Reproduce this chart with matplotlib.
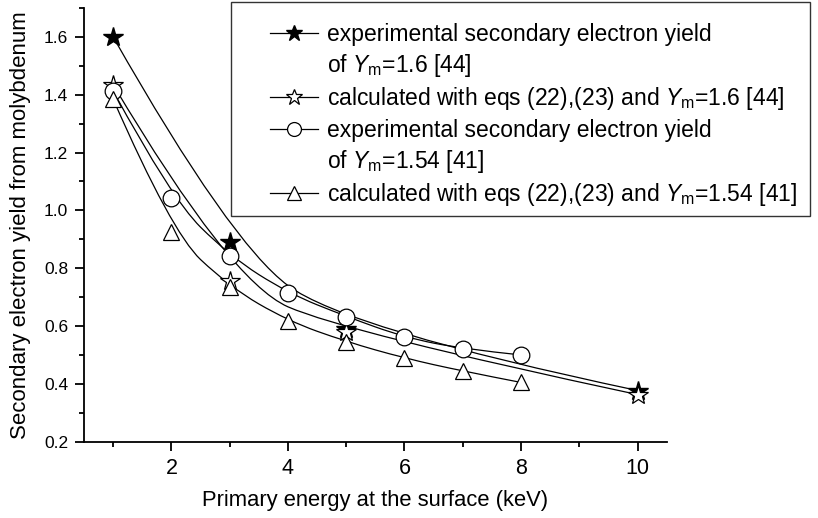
import numpy as np
import matplotlib
matplotlib.use('Agg')
import matplotlib.pyplot as plt
from matplotlib.path import Path
from matplotlib.patches import PathPatch, Rectangle
from matplotlib.lines import Line2D

plt.rcParams['font.family'] = ['Liberation Sans', 'DejaVu Sans']
plt.rcParams['mathtext.fontset'] = 'custom'
plt.rcParams['mathtext.rm'] = 'Liberation Sans'
plt.rcParams['mathtext.it'] = 'Liberation Sans:italic'

# data
x_exp44 = [1, 3, 5, 10]
y_exp44 = [1.60, 0.89, 0.59, 0.377]

x_calc44 = [1, 3, 5, 10]
y_calc44 = [1.435, 0.755, 0.578, 0.363]

x_exp41 = [1, 2, 3, 4, 5, 6, 7, 8]
y_exp41 = [1.413, 1.042, 0.842, 0.714, 0.633, 0.561, 0.521, 0.500]

x_calc41 = [1, 2, 3, 4, 5, 6, 7, 8]
y_calc41 = [1.385, 0.925, 0.735, 0.618, 0.546, 0.489, 0.444, 0.405]

labels = ['experimental secondary electron yield',
          'of $\\mathit{Y}_{\\mathrm{m}}$=1.6 [44]',
          'calculated with eqs (22),(23) and $\\mathit{Y}_{\\mathrm{m}}$=1.6 [44]',
          'experimental secondary electron yield',
          'of $\\mathit{Y}_{\\mathrm{m}}$=1.54 [41]',
          'calculated with eqs (22),(23) and $\\mathit{Y}_{\\mathrm{m}}$=1.54 [41]']


def bspline(xs, ys):
    # quadratic b-spline with the data points as control points (like Origin's B-spline)
    pts = np.column_stack([xs, ys])
    verts = [pts[0]]
    codes = [Path.MOVETO]
    n = len(pts)
    for i in range(1, n - 1):
        if i == n - 2:
            end = pts[-1]
        else:
            end = (pts[i] + pts[i + 1]) / 2
        verts += [pts[i], end]
        codes += [Path.CURVE3, Path.CURVE3]
    return Path(verts, codes)


fig = plt.figure(figsize=(8.18, 5.18), dpi=100)
ax = fig.add_axes([84/818, 1-441.7/518, (666.7-84)/818, (441.7-8)/518])

styles = [
    (x_exp44, y_exp44, dict(marker='*', mfc='k', mec='k'), 15, 12),
    (x_calc44, y_calc44, dict(marker='*', mfc='w', mec='k', mew=0.9), 15, 12),
    (x_exp41, y_exp41, dict(marker='o', mfc='w', mec='k', mew=0.9), 12, 10),
    (x_calc41, y_calc41, dict(marker='^', mfc='w', mec='k', mew=0.9), 12, 10),
]

handles = []
for xs, ys, st, ms, ms_leg in styles:
    ax.add_patch(PathPatch(bspline(xs, ys), fill=False, ec='k', lw=0.9, zorder=2))
    ax.plot(xs, ys, ls='none', ms=ms, zorder=3, **st)
    handles.append(Line2D([], [], color='k', lw=0.9, ms=ms_leg, **st))

blank = Line2D([], [], ls='none', marker='none')
leg_handles = [handles[0], blank, handles[1], handles[2], blank, handles[3]]

ax.set_xlim(0.5, 10.5)
ax.set_ylim(0.2, 1.7)
ax.set_xticks([2, 4, 6, 8, 10])
ax.set_xticks([1, 3, 5, 7, 9], minor=True)
ax.set_yticks(np.arange(0.2, 1.61, 0.2))
ax.set_yticks(np.arange(0.3, 1.71, 0.2), minor=True)
ax.set_yticklabels(['%.1f' % v for v in np.arange(0.2, 1.61, 0.2)])
ax.spines['top'].set_visible(False)
ax.spines['right'].set_visible(False)
for s in ['left', 'bottom']:
    ax.spines[s].set_linewidth(1.3)
ax.tick_params(which='both', direction='out', width=1.3)
ax.tick_params(which='major', length=6.5)
ax.tick_params(which='minor', length=3.5)
ax.tick_params(axis='x', labelsize=15.5, pad=5)
ax.tick_params(axis='y', labelsize=12.5, pad=5)

ax.set_xlabel('Primary energy at the surface (keV)', fontsize=15.8, labelpad=8)
ax.set_ylabel('Secondary electron yield from molybdenum', fontsize=16, labelpad=9)

fig.patches.append(Rectangle((231/818, 1-216/518), (810-231)/818, 214/518,
                             transform=fig.transFigure, fc='w', ec='#333333',
                             lw=1.0, zorder=4))
fig.legend(leg_handles, labels, loc='upper left', bbox_to_anchor=(270/818, 1-23/518),
           frameon=False, fontsize=16.5, handlelength=2.1, handletextpad=0.4,
           labelspacing=0.27, borderpad=0, borderaxespad=0)

fig.savefig('out.png', dpi=100)
